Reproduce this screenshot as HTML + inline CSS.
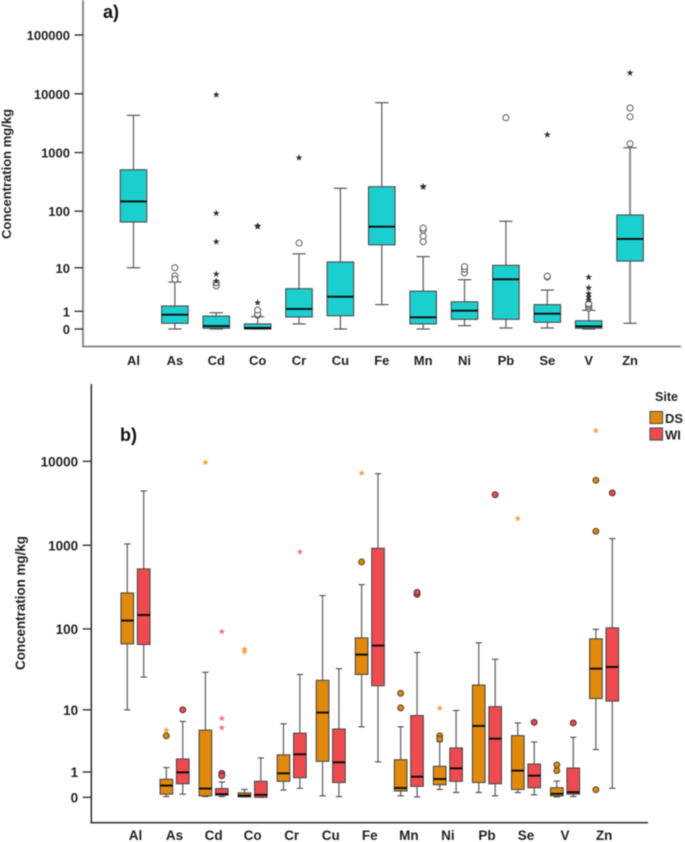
<!DOCTYPE html>
<html>
<head>
<meta charset="utf-8">
<title>Concentration box plots</title>
<style>
html,body{margin:0;padding:0;background:#fff;}
body{width:685px;height:842px;overflow:hidden;}
#chart{display:block;filter:blur(0.4px);font-family:"Liberation Sans",sans-serif;}
</style>
</head>
<body>
<svg id="chart" xmlns="http://www.w3.org/2000/svg" width="685" height="842" viewBox="0 0 685 842">
  <rect x="0" y="0" width="685" height="842" fill="#ffffff"/>
  <g id="panelA"></g>
  <g id="panelB"></g>
  <text x="103" y="18" font-size="18" font-weight="bold" fill="#111">a)</text>
  <text x="120" y="441" font-size="18" font-weight="bold" fill="#111">b)</text>
  <text transform="translate(11,174) rotate(-90)" text-anchor="middle" font-size="13" font-weight="bold" fill="#222">Concentration mg/kg</text>
  <text transform="translate(25,603) rotate(-90)" text-anchor="middle" font-size="13.4" font-weight="bold" fill="#222">Concentration mg/kg</text>
  <g>
    <text x="666.5" y="401" text-anchor="middle" font-size="12.5" font-weight="bold" fill="#222">Site</text>
    <rect x="650" y="411.5" width="12.5" height="12" fill="#e0890c" stroke="#555" stroke-width="1.2"/>
    <text x="665" y="423" font-size="13" font-weight="bold" fill="#222">DS</text>
    <rect x="650" y="428" width="12.5" height="12" fill="#ee4a50" stroke="#555" stroke-width="1.2"/>
    <text x="665" y="439.5" font-size="13" font-weight="bold" fill="#222">WI</text>
  </g>
</svg>
<script>
const categories = ["Al","As","Cd","Co","Cr","Cu","Fe","Mn","Ni","Pb","Se","V","Zn"];
const tickValuesA = [0,1,10,100,1000,10000,100000];
const tickValuesB = [0,1,10,100,1000,10000];

/* Panel a: all samples */
const highA = [4300,5.3,0.89,0.62,18,246,7060,16,5.9,67,3.6,1.08,1210];
const q3A = [510,1.46,0.66,0.22,3.85,12.8,262,3.4,1.9,11.1,1.6,0.38,86];
const medianA = [147,0.75,0.12,0.04,1.19,2.54,54,0.58,1.05,6,0.82,0.11,33];
const q1A = [65,0.25,0.03,0,0.6,0.68,26,0.22,0.46,0.46,0.3,0.03,13.3];
const lowA = [10,0,0,0,0.22,0,1.6,0,0.14,0.04,0.04,0,0.25];
const circlesA = [[],[10,7,6],[4.4,5.1],[0.71,0.75,0.8,1.1],[28],[],[],[29.5,37,47,51],[8,9.4,10.5],[3920],[6.65,6.9],[1.25,1.4,1.57,1.7],[1415,4070,5730]];
const starsA = [[],[],[5.5,7.6,29.5,92,9600],[1.8,54,56],[818],[],[],[259,265],[],[],[2010],[2.1,2.5,3,4,6.6],[22600]];

/* Panel b: site DS */
const highDS = [1036,1.26,29.8,0.24,6.5,251,339,5.9,3.6,68,6.67,0.56,99];
const q3DS = [270,0.64,5.3,0.13,2.2,23.7,78,1.8,1.34,20.7,4.42,0.3,76];
const medianDS = [126,0.38,0.27,0.05,0.93,9.2,49,0.29,0.65,6.07,1.08,0.1,33];
const q1DS = [66,0.09,0.04,0.01,0.55,1.68,28,0.19,0.41,0.5,0.24,0.04,14];
const lowDS = [10,0.02,0.02,0.01,0.22,0.04,5.9,0.04,0.24,0.14,0.14,0.01,2.7];
const circlesDS = [[],[4.4],[],[],[],[],[633],[10.6,16.3],[4.4,3.95],[],[],[1.08,1.43],[0.23,1468,5940]];
const starsDS = [[],[5.3],[9700],[57,53],[],[],[7260],[],[10.5],[],[2080],[],[23200]];

/* Panel b: site WI */
const highWI = [4430,7,0.52,1.94,28,33,7120,52,9.8,43,3.56,4.18,1200];
const q3WI = [522,1.86,0.27,0.55,4.8,5.5,920,8.4,2.87,11,1.49,1.23,103];
const medianWI = [147,0.98,0.09,0.07,2.25,1.61,63,0.76,1.21,3.99,0.81,0.15,34.6];
const q1WI = [65,0.45,0.06,0,0.71,0.5,20.3,0.35,0.55,0.45,0.3,0.09,13];
const lowWI = [26,0.09,0.02,0,0.28,0.02,1.64,0.01,0.14,0.04,0.07,0.02,0.28];
const circlesWI = [[],[10],[0.93,0.81],[],[],[],[],[260,275],[],[4000],[6.8],[6.67],[4200]];
const starsWI = [[],[],[5.75,7.7,93],[],[833],[],[],[],[],[],[],[],[]];

const SVGNS = "http://www.w3.org/2000/svg";
const panelA = document.getElementById("panelA");
const panelB = document.getElementById("panelB");

function mk(parent, tag, props) {
  const node = document.createElementNS(SVGNS, tag);
  for (const key in props) node.setAttribute(key, props[key]);
  parent.appendChild(node);
  return node;
}
function logScale(zeroY, decade) {
  return function (v) { return zeroY - decade * Math.log10(1 + v); };
}
function starPoints(cx, cy, r) {
  const pts = [];
  for (let k = 0; k < 10; k++) {
    const rad = k % 2 === 0 ? r : r * 0.42;
    const ang = -Math.PI / 2 + k * Math.PI / 5;
    pts.push((cx + rad * Math.cos(ang)).toFixed(2) + "," + (cy + rad * Math.sin(ang)).toFixed(2));
  }
  return pts.join(" ");
}

function drawAxes(parent, cfg) {
  const yAxis = mk(parent, "line", {x1: cfg.axisX, x2: cfg.axisX, y1: cfg.top, y2: cfg.bottom, stroke: cfg.axisColor, "stroke-width": cfg.axisWidth});
  
  
  const xAxis = mk(parent, "line", {x1: cfg.axisX - 1, x2: cfg.right, y1: cfg.bottom, y2: cfg.bottom, stroke: cfg.axisColor, "stroke-width": cfg.axisWidth});
  
  
  cfg.ticks.forEach(function (v) {
    const y = cfg.y(v);
    const tick = mk(parent, "line", {x1: cfg.axisX - cfg.tickLen, x2: cfg.axisX, y1: y, y2: y, stroke: "#333", "stroke-width": 1.4});
    
    
    const label = mk(parent, "text", {x: cfg.axisX - cfg.tickLen - 4.5, y: y + 5, "text-anchor": "end", "font-size": cfg.fontSize, "font-weight": "bold", fill: "#222"});
    label.textContent = String(v);
    
    
  });
  categories.forEach(function (c, i) {
    const label = mk(parent, "text", {x: cfg.labelX(i), y: cfg.labelY, "text-anchor": "middle", "font-size": cfg.fontSize, "font-weight": "bold", fill: "#222"});
    label.textContent = c;
    
    
  });
}

function drawBox(parent, o) {
  const g = mk(parent, "g", {});
  
  
  const half = o.width / 2;
  const capHalf = o.width / 4;

  const whisker = mk(g, "line", {x1: o.x, x2: o.x, y1: o.y(o.high), y2: o.y(o.low), stroke: o.whiskerColor || "#666", "stroke-width": o.whiskerWidth || 1.3});
  
  

  const capHigh = mk(g, "line", {x1: o.x - capHalf, x2: o.x + capHalf, y1: o.y(o.high), y2: o.y(o.high), stroke: "#555", "stroke-width": 1.2});
  
  

  const capLow = mk(g, "line", {x1: o.x - capHalf, x2: o.x + capHalf, y1: o.y(o.low), y2: o.y(o.low), stroke: "#555", "stroke-width": 1.2});
  
  

  const rect = mk(g, "rect", {x: o.x - half, y: o.y(o.q3), width: o.width, height: Math.max(o.y(o.q1) - o.y(o.q3), 0.5), fill: o.fill, stroke: "#4a4a4a", "stroke-width": 1.1});
  
  

  const median = mk(g, "line", {x1: o.x - half, x2: o.x + half, y1: o.y(o.median), y2: o.y(o.median), stroke: "#0a0a0a", "stroke-width": 1.9});
  
  

  o.circles.forEach(function (v) {
    const c = mk(g, "circle", {cx: o.x, cy: o.y(v), r: o.circleR, fill: o.circleFill, stroke: o.circleStroke, "stroke-width": 1.1});
    
    
  });
  o.stars.forEach(function (v) {
    const s = mk(g, "polygon", {points: starPoints(o.x, o.y(v), o.starR), fill: o.starFill});
    
    
  });
}

/* Panel a */
const yA = logScale(329, 58.8);
const xA = function (i) { return 133.5 + i * 41.38; };
drawAxes(panelA, {axisX: 83, top: 0, bottom: 346.5, right: 681, axisColor: "#8c8c8c", axisWidth: 2, tickLen: 8.5, fontSize: 13, ticks: tickValuesA, y: yA, labelX: xA, labelY: 365});
categories.forEach(function (c, i) {
  drawBox(panelA, {name: "a-" + c, x: xA(i), y: yA, width: 26.5, fill: "#1ccfcf", high: highA[i], q3: q3A[i], median: medianA[i], q1: q1A[i], low: lowA[i], circles: circlesA[i], stars: starsA[i], circleR: 3, circleFill: "#ffffff", circleStroke: "#666", starR: 3.6, starFill: "#333", whiskerColor: c === "Zn" ? "#8a8a8a" : "#666", whiskerWidth: c === "Zn" ? 1.9 : 1.3});
});

/* Panel b */
const yB = logScale(797.3, 84);
const xB = function (i) { return 135.5 + i * 39.05; };
drawAxes(panelB, {axisX: 91.3, top: 384, bottom: 822.7, right: 648, axisColor: "#3a3a3a", axisWidth: 1.6, tickLen: 8.6, fontSize: 13.5, ticks: tickValuesB, y: yB, labelX: xB, labelY: 840});
categories.forEach(function (c, i) {
  drawBox(panelB, {name: "ds-" + c, x: xB(i) - 8.2, y: yB, width: 12.6, fill: "#e0890c", high: highDS[i], q3: q3DS[i], median: medianDS[i], q1: q1DS[i], low: lowDS[i], circles: circlesDS[i], stars: starsDS[i], circleR: 2.9, circleFill: "#e0890c", circleStroke: "#5a4a20", starR: 3.4, starFill: "#f5a236"});
  drawBox(panelB, {name: "wi-" + c, x: xB(i) + 8.2, y: yB, width: 12.6, fill: "#ee4a50", high: highWI[i], q3: q3WI[i], median: medianWI[i], q1: q1WI[i], low: lowWI[i], circles: circlesWI[i], stars: starsWI[i], circleR: 2.9, circleFill: "#ee4a50", circleStroke: "#5a3035", starR: 3.4, starFill: "#f8707c"});
});
</script>
</body>
</html>
